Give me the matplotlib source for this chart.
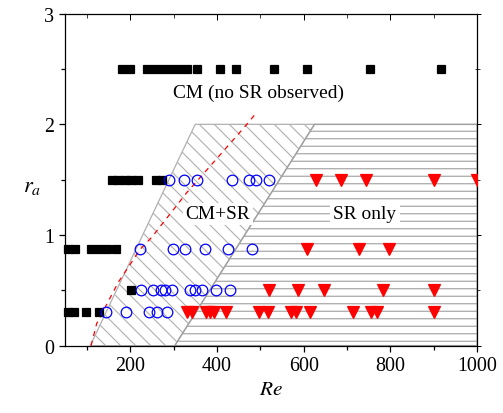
import matplotlib
matplotlib.use("Agg")
import matplotlib.pyplot as plt
from matplotlib.ticker import MultipleLocator

# -------------------------
#  DATA
# -------------------------
# CM only (black squares)
cm_re = [182, 199, 238, 257, 275, 294, 313, 332, 354, 406, 445, 532, 608, 752, 917,
         158, 173, 188, 203, 218, 260, 274,
         58, 74, 109, 129, 147, 167,
         203,
         58, 70, 98, 128]
cm_ra = [2.5] * 15 + [1.5] * 7 + [0.87] * 6 + [0.5] + [0.3] * 4

# CM+SR (open blue circles)
both_re = [289, 324, 354, 435, 473, 490, 520,
           223, 298, 326, 373, 425, 480,
           224, 253, 272, 281, 297, 339, 350, 366, 397, 431,
           145, 191, 243, 263, 285]
both_ra = [1.5] * 7 + [0.87] * 6 + [0.5] * 10 + [0.3] * 5

# SR only (red down triangles)
sr_re = [628, 687, 744, 901, 1000,
         608, 728, 797,
         521, 587, 646, 783, 901,
         330, 343, 374, 384, 393, 421, 496, 517, 570, 583, 614, 714, 754, 770, 901]
sr_ra = [1.5] * 5 + [0.87] * 3 + [0.5] * 5 + [0.3] * 15

# red dashed boundary
line_re = [110, 123, 173, 223, 250, 331, 375, 469, 490]
line_ra = [0.0, 0.2, 0.575, 0.87, 0.98, 1.385, 1.58, 2.0, 2.1]

# region corners
mixed_re = [108, 350, 625, 303]
mixed_ra = [0, 2, 2, 0]
sronly_re = [303, 625, 1000, 1000]
sronly_ra = [0, 2, 2, 0]

plt.rcParams['font.family'] = ['Liberation Serif', 'DejaVu Serif']
plt.rcParams['mathtext.fontset'] = 'stix'
plt.rcParams['hatch.linewidth'] = 0.9

fig = plt.figure(figsize=(5.6, 4.6), dpi=90)
ax = fig.add_axes([0.129, 0.1626, 0.818, 0.802])

# hatched regions
ax.fill(mixed_re, mixed_ra, facecolor='white', edgecolor='#b0b0b0', hatch='\\\\', linewidth=1.0, zorder=1)
ax.fill(sronly_re, sronly_ra, facecolor='white', edgecolor='#a0a0a0', hatch='--', linewidth=1.2, zorder=1)

ax.plot(line_re, line_ra, color='red', linestyle=(0, (4, 4)), linewidth=1.0, zorder=2)

ax.plot(cm_re, cm_ra, 's', color='black', markersize=6, linestyle='none', zorder=3, clip_on=False)
ax.plot(both_re, both_ra, 'o', markerfacecolor='none', markeredgecolor='blue', markeredgewidth=1.0,
        markersize=8.5, linestyle='none', zorder=4)
ax.plot(sr_re, sr_ra, 'v', color='red', markersize=9.5, linestyle='none', zorder=4)

ax.text(496, 2.29, 'CM (no SR observed)', fontsize=15.5, ha='center', va='center', zorder=5)
ax.text(402, 1.19, 'CM+SR', fontsize=15.5, ha='center', va='center', zorder=5,
        bbox=dict(facecolor='white', edgecolor='none', pad=2))
ax.text(741, 1.19, 'SR only', fontsize=15.5, ha='center', va='center', zorder=5,
        bbox=dict(facecolor='white', edgecolor='none', pad=3))

ax.set_xlim(50, 1000)
ax.set_ylim(0, 3)
ax.xaxis.set_major_locator(MultipleLocator(200))
ax.xaxis.set_minor_locator(MultipleLocator(100))
ax.yaxis.set_major_locator(MultipleLocator(1))
ax.yaxis.set_minor_locator(MultipleLocator(0.5))
ax.tick_params(which='both', direction='out', top=False, right=False, labelsize=16)
ax.tick_params(which='major', length=5, width=1)
ax.tick_params(which='minor', length=3, width=1)

# inward ticks on top/right
ax2 = ax.secondary_xaxis('top')
ax2.xaxis.set_major_locator(MultipleLocator(200))
ax2.xaxis.set_minor_locator(MultipleLocator(100))
ax2.tick_params(which='both', direction='in', labeltop=False)
ax2.tick_params(which='major', length=5)
ax2.tick_params(which='minor', length=3)
ay2 = ax.secondary_yaxis('right')
ay2.yaxis.set_major_locator(MultipleLocator(1))
ay2.yaxis.set_minor_locator(MultipleLocator(0.5))
ay2.tick_params(which='both', direction='inout', labelright=False)
ay2.tick_params(which='major', length=6)
ay2.tick_params(which='minor', length=4)

for s in ax.spines.values():
    s.set_linewidth(1.0)

ax.set_xlabel('$Re$', fontsize=17, labelpad=4)
ax.set_ylabel('$r_a$', fontsize=18, rotation=0, labelpad=14)
ax.yaxis.set_label_coords(-0.08, 0.45)

fig.savefig('out.png', dpi=90)
